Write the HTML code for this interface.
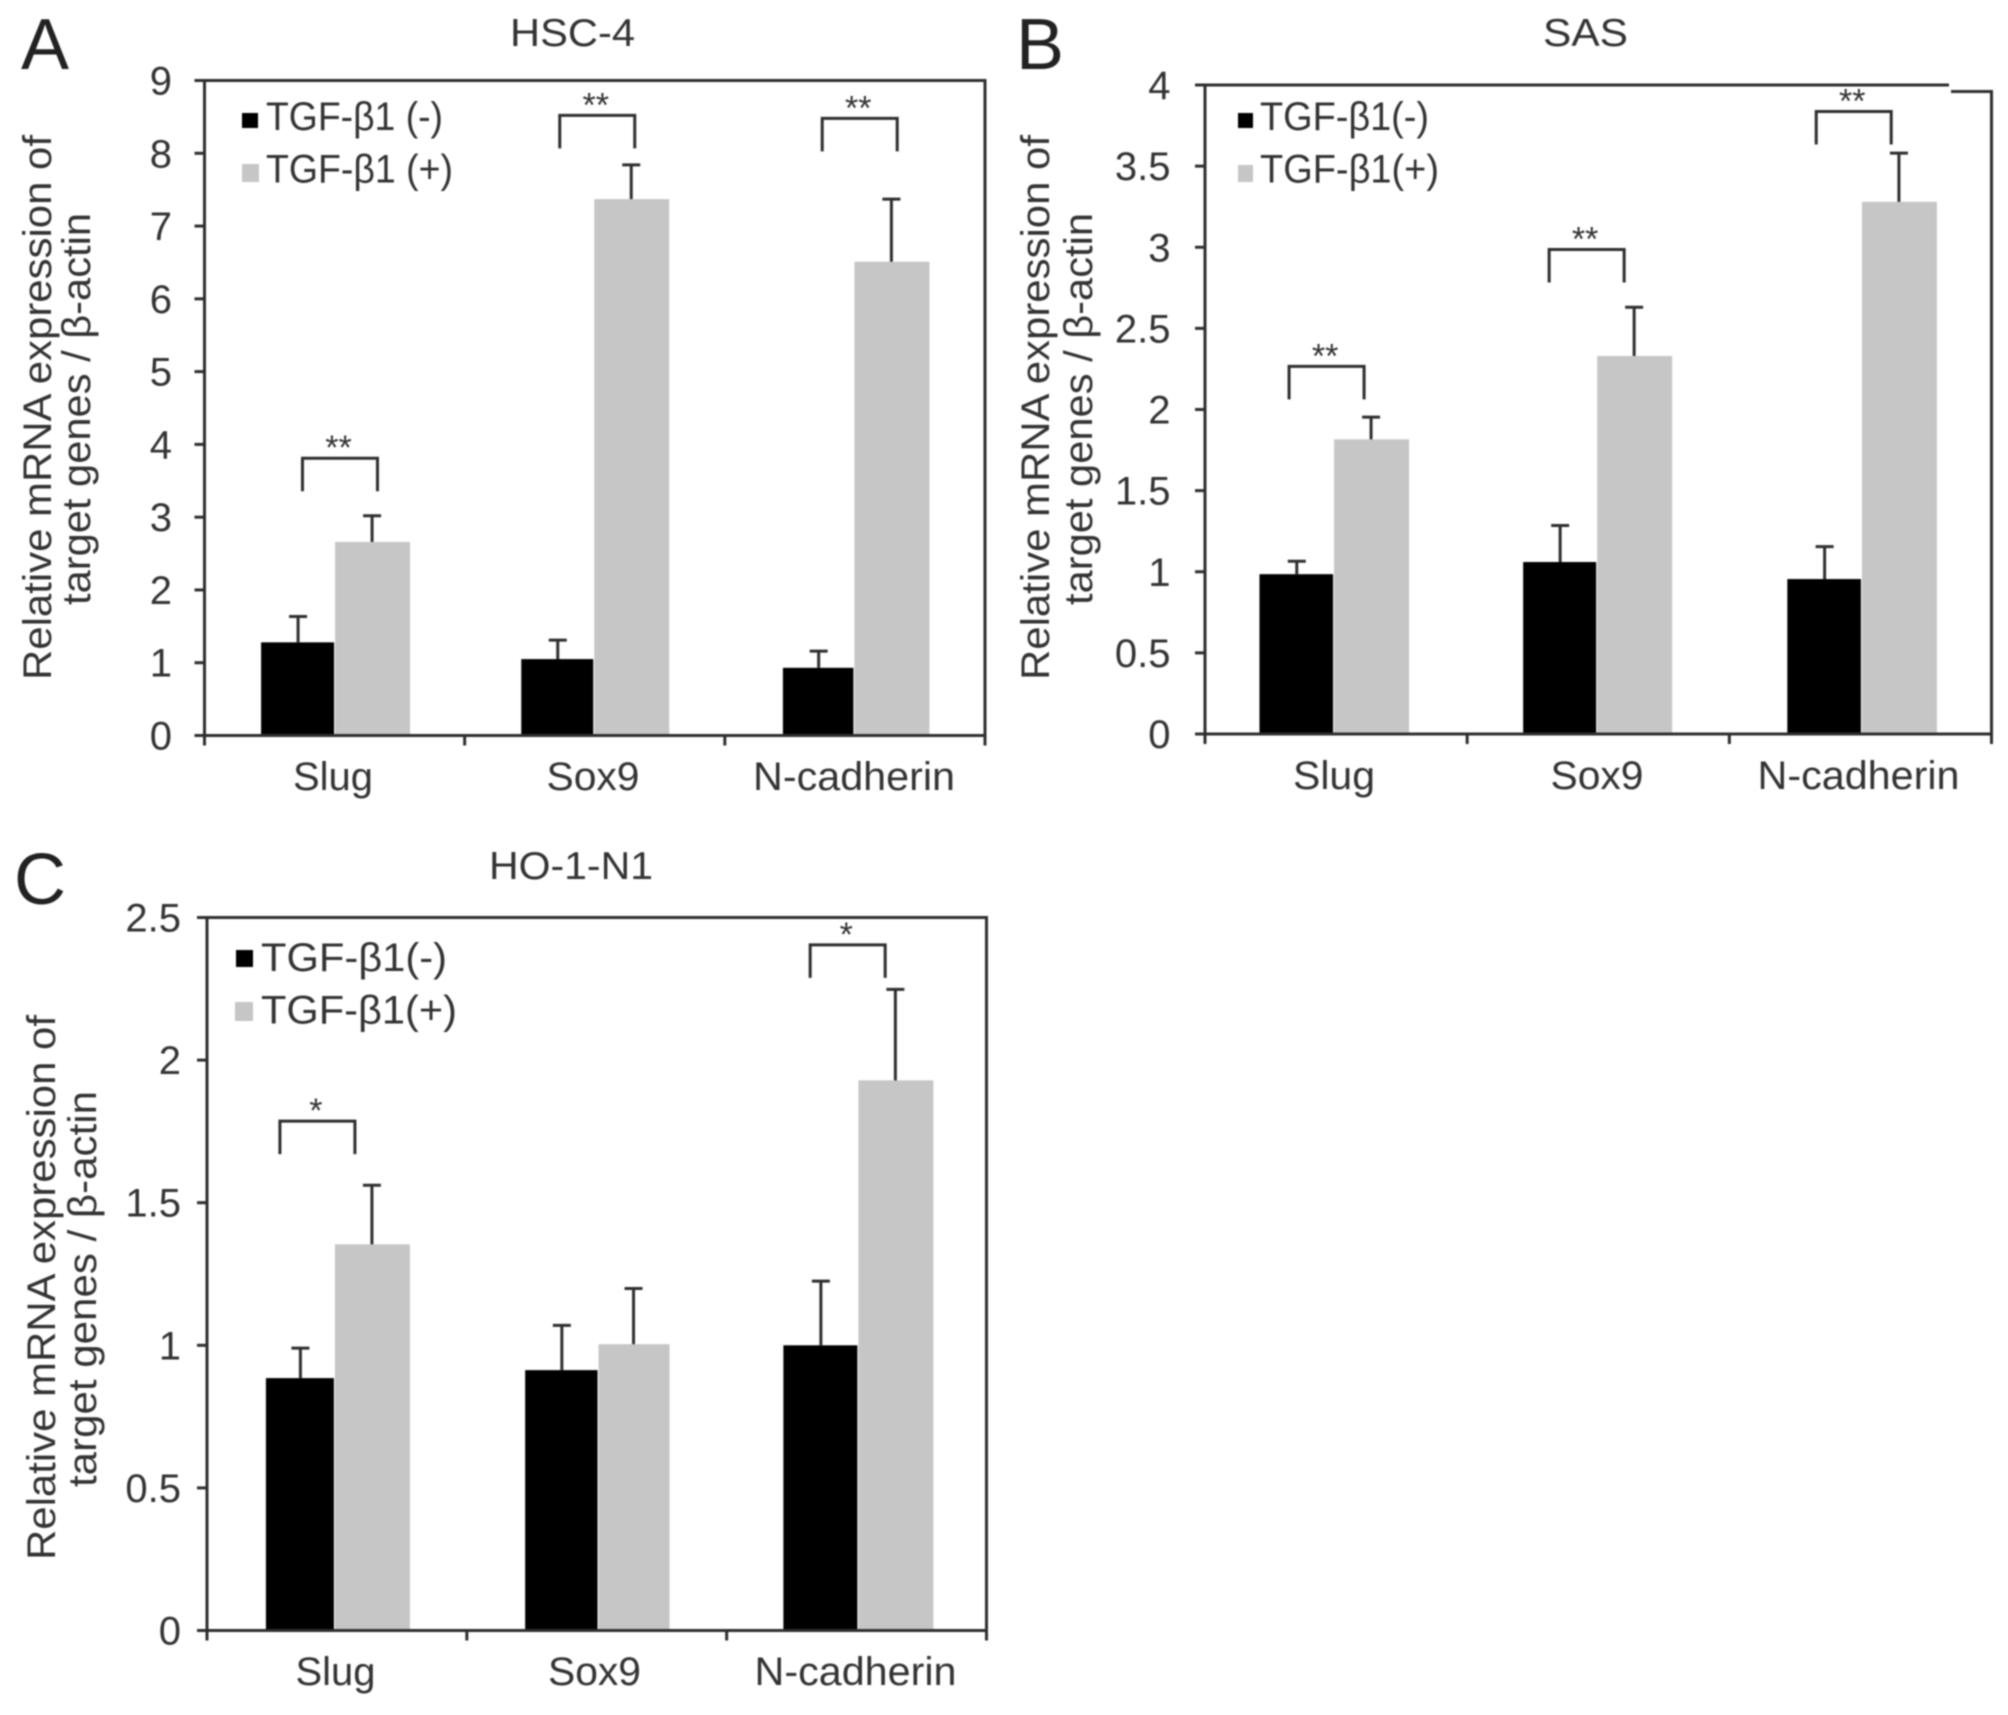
<!DOCTYPE html>
<html lang="en">
<head>
<meta charset="utf-8">
<title>Relative mRNA expression of target genes</title>
<style>
html,body{margin:0;padding:0;background:#fff;}
svg{display:block;filter:blur(0.7px);}
text{font-family:"Liberation Sans",sans-serif;fill:#333;}
.letter{font-size:72px;fill:#222;}
.title{font-size:39px;}
.axt{font-size:40px;}
.leg{font-size:40px;}
</style>
</head>
<body>
<svg id="figure" width="2008" height="1715" viewBox="0 0 2008 1715" xmlns="http://www.w3.org/2000/svg">
  <rect x="0" y="0" width="2008" height="1715" fill="#fff"/>

  <g id="panel-a">
    <text class="letter" x="21" y="69">A</text>
    <text class="title" x="510" y="46" textLength="125" lengthAdjust="spacingAndGlyphs">HSC-4</text>
    <text class="axt" transform="translate(51,680) rotate(-90)" textLength="545" lengthAdjust="spacingAndGlyphs">Relative mRNA expression of</text>
    <text class="axt" transform="translate(90,605) rotate(-90)" textLength="392" lengthAdjust="spacingAndGlyphs">target genes / β-actin</text>
    <rect x="242" y="113" width="16" height="15" fill="#000"/>
    <text class="leg" x="266" y="130" textLength="177" lengthAdjust="spacingAndGlyphs">TGF-β1 (-)</text>
    <rect x="242" y="164" width="17" height="18" fill="#c6c6c6"/>
    <text class="leg" x="266" y="182.5" textLength="187" lengthAdjust="spacingAndGlyphs">TGF-β1 (+)</text>
  </g>

  <g id="panel-b">
    <text class="letter" x="1016" y="69">B</text>
    <text class="title" x="1543" y="46" textLength="85" lengthAdjust="spacingAndGlyphs">SAS</text>
    <text class="axt" transform="translate(1049,680) rotate(-90)" textLength="545" lengthAdjust="spacingAndGlyphs">Relative mRNA expression of</text>
    <text class="axt" transform="translate(1092,605) rotate(-90)" textLength="392" lengthAdjust="spacingAndGlyphs">target genes / β-actin</text>
    <rect x="1238" y="113" width="15" height="15" fill="#000"/>
    <text class="leg" x="1260" y="130" textLength="169" lengthAdjust="spacingAndGlyphs">TGF-β1(-)</text>
    <rect x="1238" y="165" width="15" height="17" fill="#c6c6c6"/>
    <text class="leg" x="1260" y="182.5" textLength="179" lengthAdjust="spacingAndGlyphs">TGF-β1(+)</text>
  </g>

  <g id="panel-c">
    <text class="letter" x="14" y="904">C</text>
    <text class="title" x="489" y="879" textLength="164" lengthAdjust="spacingAndGlyphs">HO-1-N1</text>
    <text class="axt" transform="translate(55,1560) rotate(-90)" textLength="545" lengthAdjust="spacingAndGlyphs">Relative mRNA expression of</text>
    <text class="axt" transform="translate(96,1487) rotate(-90)" textLength="396" lengthAdjust="spacingAndGlyphs">target genes / β-actin</text>
    <rect x="236" y="950" width="17" height="17" fill="#000"/>
    <text class="leg" x="261" y="971" textLength="186" lengthAdjust="spacingAndGlyphs">TGF-β1(-)</text>
    <rect x="235" y="1002" width="18" height="19" fill="#c6c6c6"/>
    <text class="leg" x="261" y="1023.5" textLength="196" lengthAdjust="spacingAndGlyphs">TGF-β1(+)</text>
  </g>
</svg>

<script>
// ---------- chart data ----------
const categories = ['Slug', 'Sox9', 'N-cadherin'];

const hsc4YTicks = [0, 1, 2, 3, 4, 5, 6, 7, 8, 9];
const hsc4Control = [1.28, 1.05, 0.93];
const hsc4ControlErr = [0.355, 0.26, 0.23];
const hsc4Treated = [2.66, 7.37, 6.51];
const hsc4TreatedErr = [0.36, 0.47, 0.86];
const hsc4BracketLevels = [3.81, 8.52, 8.48];
const hsc4Stars = ['**', '**', '**'];

const sasYTicks = [0, 0.5, 1, 1.5, 2, 2.5, 3, 3.5, 4];
const sasControl = [0.985, 1.06, 0.955];
const sasControlErr = [0.08, 0.225, 0.2];
const sasTreated = [1.816, 2.33, 3.28];
const sasTreatedErr = [0.137, 0.3, 0.3];
const sasBracketLevels = [2.266, 2.986, 3.837];
const sasStars = ['**', '**', '**'];

const ho1n1YTicks = [0, 0.5, 1, 1.5, 2, 2.5];
const ho1n1Control = [0.885, 0.913, 1.0];
const ho1n1ControlErr = [0.105, 0.157, 0.225];
const ho1n1Treated = [1.354, 1.004, 1.929];
const ho1n1TreatedErr = [0.207, 0.195, 0.319];
const ho1n1BracketLevels = [1.786, null, 2.404];
const ho1n1Stars = ['*', '', '*'];

// ---------- rendering ----------
const SVG_NS = 'http://www.w3.org/2000/svg';
const INK = '#2e2e2e';

function make(parent, tag, name, interactable) {
  const el = document.createElementNS(SVG_NS, tag);
  
  
  parent.appendChild(el);
  return el;
}

function line(parent, name, x1, y1, x2, y2, width) {
  const el = make(parent, 'line', name, 'false');
  el.setAttribute('x1', x1);
  el.setAttribute('y1', y1);
  el.setAttribute('x2', x2);
  el.setAttribute('y2', y2);
  el.setAttribute('stroke', INK);
  el.setAttribute('stroke-width', width || 3);
  return el;
}

function label(parent, name, str, x, y, size, anchor, fit) {
  const el = make(parent, 'text', name, 'false');
  el.textContent = str;
  el.setAttribute('x', x);
  el.setAttribute('y', y);
  el.setAttribute('font-size', size);
  el.setAttribute('text-anchor', anchor);
  if (fit) {
    el.setAttribute('textLength', fit);
    el.setAttribute('lengthAdjust', 'spacingAndGlyphs');
  }
  return el;
}

function bar(parent, name, x, w, value, yScale, y0, fill) {
  const el = make(parent, 'rect', name, 'true');
  el.setAttribute('x', x);
  el.setAttribute('y', yScale(value));
  el.setAttribute('width', w);
  el.setAttribute('height', y0 - yScale(value));
  el.setAttribute('fill', fill);
}

function errorBar(parent, name, cx, value, err, yScale) {
  line(parent, name + '-stem', cx, yScale(value), cx, yScale(value + err), 3);
  line(parent, name + '-cap', cx - 9, yScale(value + err), cx + 9, yScale(value + err), 3);
}

function drawPanel(cfg) {
  const root = document.getElementById(cfg.id);
  const g = make(root, 'g', 'plot-area', 'false');
  const yMax = cfg.yTicks[cfg.yTicks.length - 1];
  const yScale = v => cfg.bottom - (v / yMax) * (cfg.bottom - cfg.top);
  const band = (cfg.right - cfg.left) / categories.length;
  const xCentre = i => cfg.left + (i + 0.5) * band + cfg.groupNudge[i];

  categories.forEach((cat, i) => {
    const cx = xCentre(i);
    const key = cat.toLowerCase();
    bar(g, 'bar-' + key + '-control', cx - cfg.controlWidths[i] - 0.5, cfg.controlWidths[i], cfg.control[i], yScale, cfg.bottom, '#000');
    bar(g, 'bar-' + key + '-treated', cx + 0.5, cfg.treatedWidths[i], cfg.treated[i], yScale, cfg.bottom, '#c6c6c6');
    errorBar(g, 'error-bar-' + key + '-control', cx - cfg.controlWidths[i] / 2, cfg.control[i], cfg.controlErr[i], yScale);
    errorBar(g, 'error-bar-' + key + '-treated', cx + cfg.treatedWidths[i] / 2, cfg.treated[i], cfg.treatedErr[i], yScale);

    if (cfg.brackets[i] !== null) {
      const bx = cx + cfg.bracketNudge[i];
      const by = yScale(cfg.brackets[i]);
      const path = make(g, 'path', 'significance-bracket-' + key, 'false');
      path.setAttribute('d', 'M' + (bx - 37.5) + ' ' + (by + 33) + 'V' + by + 'H' + (bx + 37.5) + 'V' + (by + 33));
      path.setAttribute('fill', 'none');
      path.setAttribute('stroke', INK);
      path.setAttribute('stroke-width', 3);
      label(g, 'significance-stars-' + key, cfg.stars[i], bx - 1.5, by + 1, 34, 'middle');
    }
  });

  // frame
  line(g, 'y-axis-line', cfg.left, cfg.top, cfg.left, cfg.bottom);
  line(g, 'x-axis-line', cfg.left - 10, cfg.bottom, cfg.right, cfg.bottom);
  if (cfg.notch) {
    line(g, 'top-border-left', cfg.left - 10, cfg.top, cfg.notch.x, cfg.top);
    line(g, 'top-border-right', cfg.notch.x + 2, cfg.notch.y, cfg.right + 1.5, cfg.notch.y);
    line(g, 'right-border', cfg.right, cfg.notch.y, cfg.right, cfg.bottom);
  } else {
    line(g, 'top-border', cfg.left - 10, cfg.top, cfg.right + 1.5, cfg.top);
    line(g, 'right-border', cfg.right, cfg.top, cfg.right, cfg.bottom);
  }

  // y ticks and labels
  cfg.yTicks.forEach(t => {
    line(g, 'y-tick-' + t, cfg.left - 10, yScale(t), cfg.left, yScale(t));
    label(g, 'y-tick-label-' + t, String(t), cfg.yLabelRight, yScale(t) + 14, 40, 'end');
  });

  // x ticks and labels
  for (let i = 0; i <= categories.length; i++) {
    const x = cfg.left + i * band;
    line(g, 'x-tick-' + i, x, cfg.bottom, x, cfg.bottom + 10);
  }
  categories.forEach((cat, i) => {
    label(g, 'x-tick-label-' + cat.toLowerCase(), cat, cfg.xLabelCentres[i], cfg.xLabelY, 40, 'middle', cfg.xLabelWidths[i]);
  });
}

drawPanel({
  id: 'panel-a', left: 204.5, right: 985, top: 80.5, bottom: 735.5, yLabelRight: 172,
  xLabelY: 790, xLabelCentres: [333, 593, 854], xLabelWidths: [80, 93, 202],
  groupNudge: [0, -1, -1], bracketNudge: [5.4, 3.5, 5.8],
  controlWidths: [73, 72, 70.5], treatedWidths: [75, 75, 75],
  yTicks: hsc4YTicks, control: hsc4Control, controlErr: hsc4ControlErr,
  treated: hsc4Treated, treatedErr: hsc4TreatedErr,
  brackets: hsc4BracketLevels, stars: hsc4Stars
});

drawPanel({
  id: 'panel-b', left: 1205, right: 1991.5, top: 85, bottom: 734, yLabelRight: 1170.5,
  xLabelY: 789, xLabelCentres: [1334, 1597, 1858.5], xLabelWidths: [82, 93, 202],
  groupNudge: [-2.5, -1.6, 1], bracketNudge: [-7, -10, -7.7],
  controlWidths: [73.6, 73, 73.6], treatedWidths: [75, 75, 75],
  notch: { x: 1949, y: 91.5 },
  yTicks: sasYTicks, control: sasControl, controlErr: sasControlErr,
  treated: sasTreated, treatedErr: sasTreatedErr,
  brackets: sasBracketLevels, stars: sasStars
});

drawPanel({
  id: 'panel-c', left: 207, right: 986.5, top: 917.5, bottom: 1630.5, yLabelRight: 181,
  xLabelY: 1685, xLabelCentres: [335.5, 594.5, 855.5], xLabelWidths: [80, 93, 202],
  groupNudge: [-2.5, 1.3, 1.3], bracketNudge: [-17, 0, -10.2],
  controlWidths: [68, 72.4, 74], treatedWidths: [75, 71, 75],
  yTicks: ho1n1YTicks, control: ho1n1Control, controlErr: ho1n1ControlErr,
  treated: ho1n1Treated, treatedErr: ho1n1TreatedErr,
  brackets: ho1n1BracketLevels, stars: ho1n1Stars
});
</script>
</body>
</html>
